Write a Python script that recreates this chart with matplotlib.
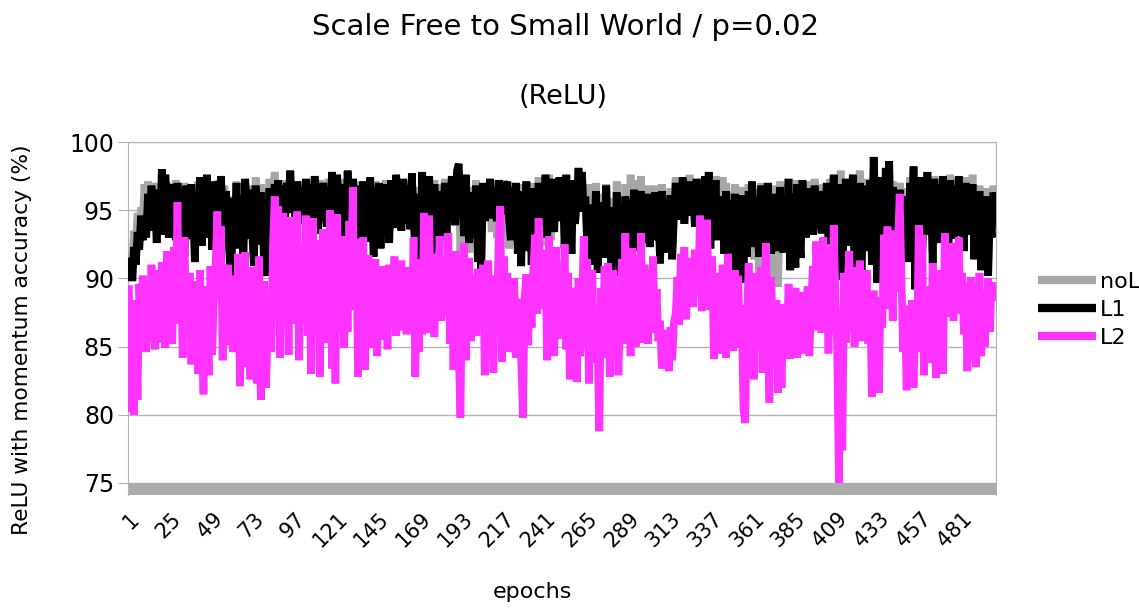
import numpy as np
import matplotlib
matplotlib.use("Agg")
import matplotlib.pyplot as plt

plt.rcParams['font.family'] = ['DejaVu Sans']

title = "Scale Free to Small World / p=0.02"
subtitle = "(ReLU)"
y_label = "ReLU with momentum accuracy (%)"
x_label = "epochs"
series_names = ["noL", "L1", "L2"]
x_tick_labels = [str(v) for v in range(1, 482, 24)]
y_ticks = [75, 80, 85, 90, 95, 100]

noL = [
    90.8, 92.0, 91.2, 93.5, 92.4, 94.8, 93.1, 95.2, 94.0, 96.9, 93.8, 97.1, 95.0, 96.4, 94.2, 97.0, 95.3, 96.2, 93.9, 97.3, 95.1, 96.8, 94.5, 97.0, 95.4,
    96.9, 94.0, 97.2, 95.5, 93.8, 96.7, 94.6, 97.0, 95.2, 93.6, 96.8, 94.9, 92.8, 96.5, 94.1, 97.1, 93.5, 96.3, 95.0, 97.4, 94.2, 96.6, 93.3, 97.0, 95.0,
    96.4, 93.9, 97.2, 95.4, 93.5, 96.8, 94.7, 92.6, 96.0, 91.3, 95.7, 94.5, 97.1, 93.4, 96.6, 95.2, 92.8, 97.0, 95.6, 93.7, 96.8, 94.4, 92.1, 97.4, 95.3,
    93.6, 96.9, 94.8, 91.9, 90.9, 94.2, 97.3, 93.0, 96.4, 97.8, 95.2, 97.0, 96.1, 94.5, 97.2, 95.0, 96.8, 96.0, 97.5, 95.4, 97.0, 94.3, 96.6, 95.7, 94.8,
    97.1, 95.3, 96.9, 94.6, 96.4, 97.2, 95.0, 97.0, 95.8, 94.1, 97.2, 95.4, 96.8, 96.0, 94.6, 97.3, 95.2, 97.2, 95.7, 94.4, 97.0, 95.6, 96.9, 93.8, 97.3,
    95.0, 97.2, 95.8, 94.0, 97.0, 95.3, 93.4, 97.1, 95.8, 92.8, 96.7, 94.8, 96.8, 93.6, 97.0, 95.6, 92.6, 97.1, 94.7, 96.6, 93.2, 96.4, 94.3, 97.2, 95.1,
    93.5, 96.9, 95.9, 94.4, 97.3, 95.3, 96.8, 94.2, 96.9, 95.7, 94.8, 97.2, 94.5, 97.4, 95.0, 93.0, 96.7, 95.6, 91.8, 97.3, 94.3, 96.4, 91.0, 97.1, 94.9,
    92.5, 97.2, 94.6, 96.3, 93.6, 96.9, 95.2, 97.3, 94.1, 96.7, 95.5, 97.0, 95.8, 94.6, 97.4, 97.6, 91.6, 96.1, 91.4, 97.1, 93.8, 91.9, 96.7, 95.7, 93.8,
    97.2, 92.0, 95.6, 91.5, 96.7, 94.9, 96.9, 95.6, 96.8, 93.4, 97.1, 95.7, 93.0, 96.8, 92.3, 95.2, 97.2, 94.6, 96.9, 92.2, 93.6, 97.0, 94.3, 96.6, 92.6,
    95.8, 91.9, 96.9, 94.0, 96.8, 92.9, 96.4, 92.0, 97.0, 94.8, 92.6, 97.4, 94.5, 96.7, 94.0, 97.2, 92.4, 97.6, 92.8, 96.9, 94.1, 97.0, 95.6, 96.9, 94.8,
    97.1, 93.0, 97.2, 94.2, 96.6, 92.6, 96.9, 94.6, 96.0, 97.4, 95.6, 97.1, 95.4, 96.6, 93.1, 96.9, 92.0, 95.5, 93.3, 97.0, 91.2, 94.9, 92.7, 96.2, 92.3,
    96.9, 93.0, 95.9, 90.6, 95.5, 92.0, 97.1, 93.7, 91.0, 96.1, 92.8, 96.9, 94.6, 91.4, 97.6, 93.9, 97.2, 92.8, 95.8, 95.0, 97.5, 93.3, 96.5, 94.4, 96.8,
    93.0, 96.3, 94.8, 96.8, 93.5, 95.7, 92.0, 96.9, 94.2, 92.7, 96.4, 93.7, 96.6, 92.2, 95.3, 97.4, 95.0, 96.1, 95.8, 97.0, 94.6, 96.8, 95.7, 97.6, 95.1,
    97.2, 94.4, 96.9, 95.8, 95.0, 97.3, 94.3, 97.1, 95.6, 97.3, 92.9, 97.1, 94.7, 97.5, 93.5, 97.3, 94.5, 97.4, 92.5, 97.0, 93.7, 91.2, 96.3, 93.0, 96.9,
    90.8, 95.4, 93.6, 96.7, 90.5, 95.9, 92.4, 96.9, 94.5, 96.8, 91.4, 96.5, 94.7, 90.2, 97.0, 93.0, 96.2, 91.0, 96.6, 93.6, 89.1, 96.8, 92.5, 95.6, 89.4,
    97.1, 94.2, 92.6, 96.4, 94.9, 96.9, 91.4, 96.8, 93.7, 91.6, 97.2, 94.7, 92.3, 96.8, 95.9, 93.8, 97.1, 95.2, 96.1, 94.0, 97.3, 95.4, 94.4, 96.5, 94.1,
    96.9, 94.7, 96.6, 93.2, 97.3, 94.9, 97.2, 91.4, 96.4, 93.7, 97.9, 90.8, 95.8, 96.9, 93.2, 96.6, 95.3, 97.1, 91.2, 96.2, 93.8, 97.9, 90.2, 96.9, 92.8,
    97.3, 94.1, 96.8, 91.8, 98.1, 96.2, 90.6, 97.0, 94.7, 96.8, 93.3, 97.7, 94.4, 98.0, 91.6, 97.1, 93.6, 96.5, 94.2, 97.0, 95.0, 92.8, 96.6, 95.3, 92.0,
    97.4, 94.4, 97.8, 90.0, 97.3, 95.0, 97.0, 92.3, 96.8, 94.8, 97.3, 94.0, 97.0, 91.9, 97.5, 95.5, 93.4, 97.3, 94.9, 97.1, 93.8, 96.9, 92.4, 97.6, 95.2,
    93.7, 97.3, 95.3, 97.0, 93.9, 96.8, 92.8, 97.4, 95.1, 96.3, 94.0, 97.6, 92.2, 96.2, 94.5, 96.8, 91.4, 95.8, 93.5, 96.6, 91.0, 95.5, 93.8, 96.8, 95.9,
]

L1 = [
    90.2, 91.5, 89.8, 92.3, 91.0, 93.4, 92.1, 94.6, 92.8, 94.4, 93.0, 96.2, 93.5, 96.8, 94.1, 95.9, 92.6, 96.5, 94.0, 98.0, 93.2, 97.6, 95.8, 93.0, 96.9,
    94.6, 96.6, 92.8, 97.0, 95.1, 93.4, 96.3, 91.6, 96.8, 94.2, 92.9, 96.9, 95.0, 91.2, 96.0, 93.6, 97.4, 92.4, 95.8, 94.5, 97.6, 93.0, 96.2, 92.1, 97.1,
    94.8, 96.7, 93.1, 97.5, 95.2, 92.6, 96.4, 94.0, 91.5, 89.8, 95.9, 93.8, 97.0, 92.2, 96.1, 94.6, 91.4, 97.3, 95.0, 92.9, 96.5, 93.5, 90.9, 96.8, 94.2,
    92.5, 96.3, 94.0, 90.8, 90.2, 93.6, 96.6, 91.9, 95.8, 96.9, 94.4, 97.2, 95.1, 93.6, 96.8, 94.3, 97.0, 95.6, 97.9, 94.8, 96.5, 93.4, 97.1, 95.2, 94.0,
    96.6, 94.6, 97.3, 93.9, 95.8, 96.9, 94.2, 97.5, 95.1, 93.3, 96.7, 94.8, 97.0, 95.5, 93.8, 96.4, 94.7, 97.8, 95.0, 93.6, 97.6, 94.9, 96.5, 92.9, 96.9,
    94.1, 97.9, 95.2, 93.0, 97.3, 94.6, 92.4, 96.8, 95.3, 91.8, 97.1, 94.0, 96.2, 92.7, 97.4, 95.0, 91.6, 96.6, 93.9, 97.0, 92.2, 95.8, 93.4, 96.9, 94.4,
    92.6, 97.2, 95.4, 93.7, 97.6, 94.8, 96.3, 93.5, 97.3, 95.1, 94.0, 96.8, 93.6, 97.7, 94.3, 92.0, 96.2, 95.0, 90.8, 97.8, 93.4, 95.9, 89.9, 97.5, 94.1,
    91.6, 96.9, 93.8, 95.7, 92.8, 96.4, 94.6, 97.0, 93.3, 96.2, 94.9, 97.5, 95.1, 93.9, 97.9, 98.4, 95.4, 96.8, 93.1, 97.6, 94.4, 92.6, 96.3, 95.2, 93.0,
    96.8, 91.2, 95.0, 90.6, 97.0, 94.2, 96.3, 95.0, 97.3, 94.4, 96.6, 95.1, 94.2, 97.2, 95.6, 94.7, 96.9, 95.3, 97.1, 94.3, 92.8, 96.7, 93.5, 97.0, 91.8,
    95.2, 90.9, 96.4, 93.3, 97.1, 92.0, 95.8, 91.0, 96.6, 94.1, 92.5, 97.0, 93.8, 96.2, 94.9, 97.6, 93.0, 96.8, 94.7, 97.3, 93.4, 96.5, 95.0, 97.4, 94.2,
    96.9, 92.2, 97.6, 93.5, 96.1, 91.8, 97.2, 94.0, 95.5, 98.1, 95.0, 97.8, 94.9, 96.0, 92.3, 95.4, 91.0, 94.8, 92.6, 96.4, 90.4, 94.2, 92.0, 95.6, 91.5,
    96.8, 92.4, 95.2, 89.7, 94.9, 91.3, 96.3, 93.0, 90.2, 95.5, 92.1, 96.0, 94.0, 90.6, 95.8, 93.2, 96.5, 92.0, 95.1, 94.3, 96.4, 92.6, 95.9, 93.7, 96.2,
    92.3, 95.7, 94.1, 96.3, 92.8, 95.0, 91.1, 96.4, 93.6, 91.9, 95.8, 93.0, 96.1, 91.4, 94.6, 97.0, 94.3, 96.5, 95.2, 97.4, 94.0, 96.2, 95.0, 97.1, 94.6,
    96.7, 93.8, 97.3, 95.2, 94.3, 96.8, 93.6, 97.5, 95.0, 97.8, 92.2, 96.6, 94.0, 97.2, 92.8, 95.6, 93.9, 96.0, 91.8, 96.4, 93.0, 90.4, 95.7, 92.3, 96.2,
    90.1, 94.8, 92.9, 96.1, 89.7, 95.3, 91.6, 96.4, 93.8, 97.1, 92.3, 95.9, 94.1, 91.6, 96.8, 93.4, 95.6, 92.4, 97.0, 94.5, 91.8, 96.2, 93.1, 95.0, 92.0,
    96.7, 93.5, 91.9, 95.8, 94.2, 97.3, 90.6, 96.2, 93.0, 90.8, 96.9, 94.0, 91.5, 97.2, 95.3, 93.0, 96.6, 94.5, 95.5, 93.2, 96.8, 94.8, 93.6, 95.9, 93.3,
    96.4, 94.0, 97.0, 92.5, 96.2, 94.2, 97.6, 90.6, 95.8, 93.0, 96.9, 89.9, 95.2, 97.3, 92.4, 96.0, 94.6, 97.6, 90.4, 95.6, 93.1, 97.0, 89.4, 96.3, 92.0,
    96.8, 93.4, 97.2, 91.0, 98.9, 95.6, 89.7, 97.4, 94.0, 96.2, 92.5, 98.1, 93.6, 98.6, 90.8, 96.7, 92.8, 95.9, 93.4, 96.5, 94.2, 92.0, 96.0, 94.6, 91.2,
    97.0, 93.6, 98.2, 89.2, 96.8, 94.3, 97.4, 91.5, 96.2, 94.0, 97.8, 93.2, 96.5, 91.1, 97.3, 94.8, 92.6, 96.9, 94.1, 97.5, 93.0, 96.4, 91.6, 97.2, 94.5,
    92.9, 96.8, 94.6, 97.5, 93.1, 96.3, 92.0, 97.0, 94.4, 95.8, 93.2, 96.9, 91.4, 95.6, 93.8, 96.4, 90.6, 95.2, 92.8, 96.0, 90.2, 94.9, 93.0, 96.3, 95.5,
]

L2 = [
    89.5, 80.2, 86.0, 80.0, 88.4, 81.1, 89.6, 86.3, 90.2, 87.8, 84.6, 89.8, 85.4, 91.0, 86.9, 84.8, 90.6, 87.5, 85.3, 91.2, 88.1, 84.9, 92.0, 86.4, 89.3,
    85.2, 92.3, 88.0, 95.6, 86.7, 91.4, 84.2, 93.0, 87.3, 85.6, 90.4, 83.7, 88.9, 86.2, 89.8, 83.0, 90.6, 85.4, 81.5, 89.4, 86.8, 82.9, 90.9, 84.4, 88.7,
    91.2, 94.9, 88.6, 93.8, 84.0, 89.9, 86.4, 91.0, 85.1, 88.3, 84.6, 90.2, 87.2, 91.8, 82.1, 88.6, 85.0, 91.9, 83.5, 89.7, 82.6, 90.8, 86.0, 88.1, 82.3,
    91.6, 81.1, 87.4, 89.8, 82.0, 86.3, 88.7, 84.6, 92.5, 96.0, 89.4, 95.3, 84.2, 90.6, 94.8, 86.9, 92.7, 84.4, 94.5, 88.3, 91.1, 86.7, 94.9, 84.0, 89.5,
    92.4, 87.1, 94.6, 85.8, 90.3, 83.0, 94.4, 88.5, 86.2, 92.8, 82.8, 89.0, 93.6, 85.3, 91.2, 87.6, 95.0, 83.4, 90.7, 82.3, 94.7, 88.2, 86.0, 93.1, 84.9,
    90.8, 86.1, 94.2, 89.5, 96.7, 87.7, 92.9, 82.8, 90.5, 85.2, 93.0, 83.3, 88.6, 91.7, 84.9, 89.8, 86.6, 91.4, 84.3, 88.9, 87.0, 90.9, 85.5, 89.6, 84.8,
    91.0, 86.4, 89.2, 91.6, 85.8, 90.4, 87.9, 91.3, 86.2, 89.6, 85.9, 90.8, 88.0, 86.5, 93.0, 82.8, 89.7, 84.6, 91.4, 85.9, 94.8, 88.4, 86.0, 94.6, 87.2,
    91.8, 85.7, 90.6, 88.3, 93.1, 86.9, 91.5, 89.0, 87.4, 93.3, 85.2, 90.1, 83.3, 92.0, 86.8, 84.6, 79.8, 89.9, 92.6, 84.0, 88.7, 91.5, 85.4, 90.2, 87.3,
    85.8, 90.7, 88.1, 86.4, 91.0, 82.9, 88.6, 91.3, 84.2, 89.5, 83.1, 90.2, 87.0, 92.8, 95.3, 83.9, 91.6, 87.4, 90.4, 84.6, 89.1, 85.8, 90.0, 84.2, 88.5,
    86.7, 84.0, 79.8, 88.6, 90.3, 85.1, 89.2, 86.4, 90.8, 93.2, 87.4, 94.4, 89.6, 92.1, 87.8, 90.6, 84.0, 93.1, 86.5, 91.4, 84.3, 92.3, 88.0, 85.6, 90.9,
    86.2, 92.5, 84.8, 90.4, 82.6, 89.3, 85.7, 88.6, 82.4, 90.0, 84.3, 87.6, 93.1, 86.1, 91.4, 82.3, 88.7, 90.6, 83.8, 87.2, 85.0, 78.8, 89.3, 84.2, 90.9,
    85.6, 91.1, 82.8, 88.4, 90.6, 84.0, 89.1, 82.9, 87.5, 91.4, 85.2, 93.3, 86.4, 90.7, 84.3, 92.2, 88.1, 85.0, 91.7, 87.5, 93.3, 85.3, 91.0, 88.4, 85.2,
    90.6, 87.8, 91.6, 86.0, 89.2, 85.4, 86.9, 83.4, 86.2, 84.1, 85.6, 83.2, 86.4, 84.0, 86.8, 87.4, 90.1, 86.6, 91.8, 88.3, 92.3, 87.0, 90.9, 88.6, 91.5,
    87.9, 92.1, 88.8, 89.6, 94.6, 87.6, 93.2, 88.8, 94.3, 89.4, 87.7, 91.6, 84.1, 90.4, 86.0, 89.1, 84.5, 91.0, 87.2, 84.2, 91.8, 86.5, 89.7, 84.7, 90.6,
    86.3, 90.2, 84.9, 88.0, 80.4, 79.4, 86.8, 91.1, 84.3, 89.5, 82.6, 90.4, 87.0, 85.4, 90.8, 83.1, 88.7, 92.6, 85.6, 80.9, 90.1, 86.2, 84.6, 88.4, 81.6,
    86.9, 82.0, 88.1, 84.8, 85.5, 89.6, 84.1, 88.2, 86.0, 89.3, 84.2, 87.4, 89.0, 84.5, 88.7, 86.3, 89.4, 84.3, 88.0, 90.9, 86.2, 92.7, 87.8, 91.4, 86.0,
    93.0, 87.1, 90.8, 84.5, 92.4, 86.0, 93.9, 88.8, 84.8, 75.0, 86.0, 77.4, 90.4, 85.3, 89.6, 92.0, 86.1, 90.8, 85.0, 89.4, 87.2, 91.3, 85.4, 89.2, 86.6,
    90.6, 85.2, 88.4, 81.3, 89.1, 83.6, 87.9, 81.6, 88.6, 86.4, 93.2, 87.8, 93.8, 88.6, 91.4, 86.9, 93.5, 89.0, 92.7, 96.2, 90.5, 84.6, 88.0, 81.8, 86.7,
    83.4, 88.4, 82.0, 86.7, 84.6, 93.9, 88.2, 93.2, 82.9, 87.6, 84.1, 89.4, 83.8, 91.1, 86.0, 82.7, 89.9, 85.3, 90.6, 83.0, 93.3, 88.6, 91.7, 87.2, 92.6,
    86.9, 91.8, 88.2, 93.0, 87.4, 90.4, 85.9, 89.6, 83.2, 88.3, 90.1, 84.0, 89.5, 83.5, 87.6, 90.4, 84.3, 88.8, 85.0, 87.3, 90.0, 86.1, 89.7, 88.4, 89.0,
]

colors = {"noL": "#a6a6a6", "L1": "#000000", "L2": "#ff33ff"}

fig = plt.figure(figsize=(11.39, 6.08), dpi=100)
ax = fig.add_axes([128 / 1139, 1 - 495 / 608, 868 / 1139, 353 / 608])

y_min = 74.12
ax.set_ylim(y_min, 100)
ax.set_xlim(0.5, 500.5)

for name, values in zip(series_names, [noL, L1, L2]):
    epochs = np.arange(1, len(values) + 1)
    ax.plot(epochs, values, color=colors[name], lw=5.5, label=name,
            solid_joinstyle="bevel", solid_capstyle="butt", zorder=3)

# floor band under the 75 line
ax.axhspan(y_min, 75, color="#ababab", lw=0, zorder=2)

ax.set_yticks(y_ticks)
ax.yaxis.grid(True, color="#b3b3b3", lw=1.0, zorder=0)
ax.set_axisbelow(True)
ax.tick_params(axis="y", length=7, color="#b3b3b3", labelsize=17, pad=3)

tick_pos = [int(t) for t in x_tick_labels]
ax.set_xticks(tick_pos)
ax.set_xticklabels(x_tick_labels, rotation=45, ha="right", va="top",
                   rotation_mode="anchor", fontsize=15)
ax.tick_params(axis="x", length=0, pad=10)

for side in ["left", "right", "top"]:
    ax.spines[side].set_color("#b3b3b3")
ax.spines["bottom"].set_visible(False)

fig.text(565 / 1139, 1 - 27 / 608, title, ha="center", va="center", fontsize=21)
fig.text(563 / 1139, 1 - 97 / 608, subtitle, ha="center", va="center", fontsize=19.5)
fig.text(22 / 1139, 1 - 340 / 608, y_label, ha="center", va="center",
         rotation=90, fontsize=15.7)
fig.text(532 / 1139, 1 - 592 / 608, x_label, ha="center", va="center", fontsize=16)

leg = fig.legend(loc="upper left", bbox_to_anchor=(1018 / 1139, 1 - 252 / 608),
                 frameon=False, fontsize=16, handlelength=2.6,
                 handletextpad=0.2, labelspacing=0.35)
for line in leg.get_lines():
    line.set_linewidth(6)

fig.savefig("out.png", dpi=100)
